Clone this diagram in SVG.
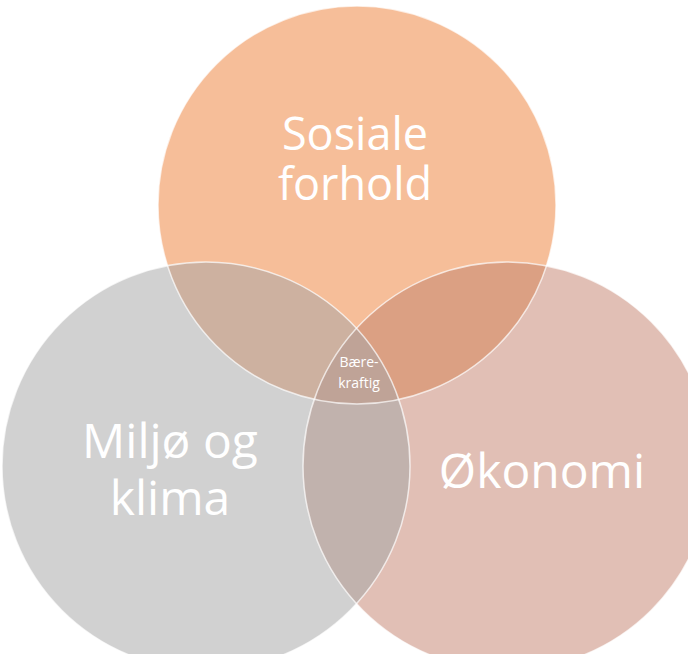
<svg xmlns="http://www.w3.org/2000/svg" xmlns:xlink="http://www.w3.org/1999/xlink" width="688" height="654" viewBox="0 0 688 654">
  <style>
    .lbl { font-family: "Open Sans", "Noto Sans", "Liberation Sans", sans-serif; fill: #ffffff; text-anchor: middle; }
    .big { font-size: 45px; }
    .big2 { font-size: 48px; }
    .small { font-size: 14px; }
    .edge { fill: none; stroke: #ffffff; stroke-opacity: 0.7; stroke-width: 1.5; }
  </style>
  <defs>
    <circle id="cTop" cx="357" cy="205" r="199"/>
    <circle id="cLeft" cx="206" cy="466" r="204"/>
    <circle id="cRight" cx="507" cy="466" r="204"/>
    <clipPath id="clipTop"><use xlink:href="#cTop"/></clipPath>
    <clipPath id="clipLeft"><use xlink:href="#cLeft"/></clipPath>
    <clipPath id="clipRight"><use xlink:href="#cRight"/></clipPath>
  </defs>
  <rect width="688" height="654" fill="#ffffff"/>
  <g id="circle-sosiale">
    <use xlink:href="#cTop" fill="#F6BE99"/>
  </g>
  <g id="circle-miljo">
    <use xlink:href="#cLeft" fill="#D1D1D1"/>
  </g>
  <g id="circle-okonomi">
    <use xlink:href="#cRight" fill="#E1BFB5"/>
  </g>
  <g id="overlaps">
    <g clip-path="url(#clipTop)"><use xlink:href="#cLeft" fill="#CDB1A0"/></g>
    <g clip-path="url(#clipTop)"><use xlink:href="#cRight" fill="#DBA083"/></g>
    <g clip-path="url(#clipLeft)"><use xlink:href="#cRight" fill="#C1B2AD"/></g>
    <g clip-path="url(#clipLeft)"><g clip-path="url(#clipRight)"><use xlink:href="#cTop" fill="#BFA397"/></g></g>
  </g>
  <g id="edges">
    <use xlink:href="#cTop" class="edge"/>
    <use xlink:href="#cLeft" class="edge"/>
    <use xlink:href="#cRight" class="edge"/>
  </g>
  <g id="labels">
    <text class="lbl big" x="355" y="150">Sosiale</text>
    <text class="lbl big" x="355" y="200">forhold</text>
    <text class="lbl big2" x="170" y="458">Miljø og</text>
    <text class="lbl big2" x="170" y="515">klima</text>
    <text class="lbl big2" x="542" y="488">Økonomi</text>
  </g>
  <g id="center-bærekraftig">
    <text class="lbl small" x="359" y="367">Bære-</text>
    <text class="lbl small" x="359" y="388">kraftig</text>
  </g>
</svg>
